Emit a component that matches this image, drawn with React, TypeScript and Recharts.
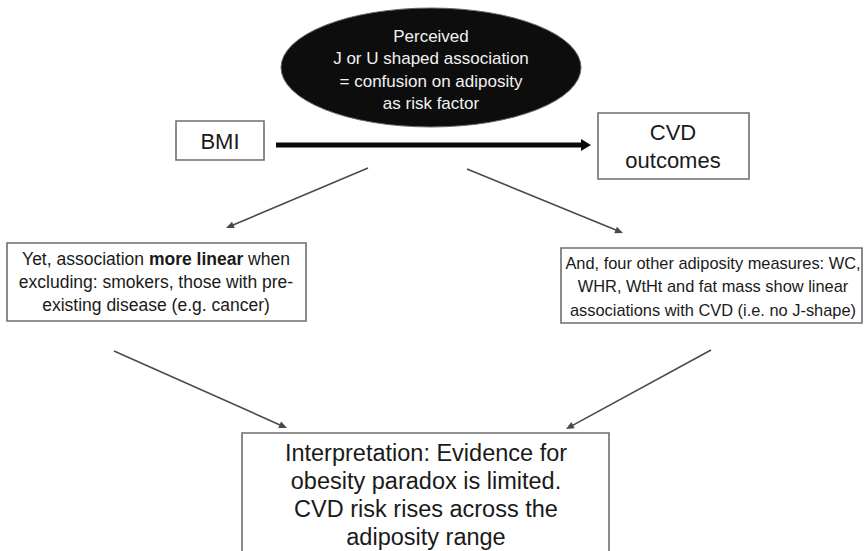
import React from 'react'
import { ScatterChart, Scatter, XAxis, YAxis, ReferenceArea, ReferenceLine } from 'recharts'

// node texts (** marks bold)
const ellipseLines = ['Perceived', 'J or U shaped association', '= confusion on adiposity', 'as risk factor']
const bmiLines = ['BMI']
const cvdLines = ['CVD', 'outcomes']
const leftLines = ['Yet, association **more linear** when', 'excluding:  smokers, those with pre-', 'existing disease (e.g. cancer)']
const rightLines = ['And,  four other adiposity measures: WC,', 'WHR, WtHt and fat mass show linear', 'associations with CVD (i.e. no J-shape)']
const bottomLines = ['Interpretation: Evidence for', 'obesity paradox is limited.', 'CVD risk rises across the', 'adiposity range']

// diagram layout in data units (x: 0-865, y: 0-551 top down)
const boxes = [
  { id: 'bmi', x1: 176, x2: 264, y1: 121, y2: 160 },
  { id: 'cvd', x1: 598, x2: 749, y1: 113, y2: 179 },
  { id: 'left', x1: 7, x2: 306, y1: 243, y2: 321 },
  { id: 'right', x1: 561, x2: 862, y1: 248, y2: 323 },
  { id: 'bottom', x1: 242, x2: 609, y1: 433, y2: 560 },
]
const ellipseBox = { x1: 281, x2: 581, y1: 8, y2: 127 }

const connectors = [
  { from: { x: 276, y: 145 }, to: { x: 591, y: 145 }, heavy: true },
  { from: { x: 368, y: 168 }, to: { x: 226, y: 228 }, heavy: false },
  { from: { x: 467, y: 169 }, to: { x: 623, y: 233 }, heavy: false },
  { from: { x: 114, y: 351 }, to: { x: 287, y: 428 }, heavy: false },
  { from: { x: 711, y: 350 }, to: { x: 566, y: 429 }, heavy: false },
]

const labels = [
  { x: 431, y: 70, lines: ellipseLines, size: 17, lh: 22.5, color: '#f2f2f2' },
  { x: 220, y: 141, lines: bmiLines, size: 22, lh: 26, color: '#1a1a1a' },
  { x: 673, y: 146, lines: cvdLines, size: 22, lh: 28, color: '#1a1a1a' },
  { x: 156, y: 282, lines: leftLines, size: 17.5, lh: 23, color: '#1a1a1a' },
  { x: 713, y: 286, lines: rightLines, size: 16.4, lh: 23.5, color: '#1a1a1a' },
  { x: 426, y: 495, lines: bottomLines, size: 23.5, lh: 27.7, color: '#1a1a1a' },
]

const FONT = '"Liberation Sans", Arial, sans-serif'

const ArrowLine = (p: any) => {
  const { x1, y1, x2, y2, heavy } = p
  const dx = x2 - x1
  const dy = y2 - y1
  const len = Math.sqrt(dx * dx + dy * dy)
  const ux = dx / len
  const uy = dy / len
  const hl = heavy ? 10 : 8
  const hw = heavy ? 6 : 3.5
  const bx = x2 - ux * hl
  const by = y2 - uy * hl
  const pts = `${x2},${y2} ${bx - uy * hw},${by + ux * hw} ${bx + uy * hw},${by - ux * hw}`
  const col = heavy ? '#0a0a0a' : '#4a4a4a'
  return (
    <g>
      <line x1={x1} y1={y1} x2={bx + ux * 1} y2={by + uy * 1} stroke={col} strokeWidth={heavy ? 5 : 1.6} />
      <polygon points={pts} fill={col} />
    </g>
  )
}

const LabelText = (p: any) => {
  const { cx, cy, payload } = p
  const n = payload.lines.length
  return (
    <text textAnchor="middle" fontFamily={FONT} fontSize={payload.size} fill={payload.color}>
      {payload.lines.map((ln: string, i: number) => {
        const parts = ln.split('**')
        return (
          <tspan key={i} x={cx} y={cy + (i - (n - 1) / 2) * payload.lh} dominantBaseline="central">
            {parts.map((t, j) => (
              <tspan key={j} fontWeight={j % 2 === 1 ? 'bold' : 'normal'}>{t}</tspan>
            ))}
          </tspan>
        )
      })}
    </text>
  )
}

export default function App() {
  return (
    <div style={{ position: 'absolute', left: 0, top: 0, background: '#fff' }}>
      <ScatterChart width={865} height={551} margin={{ top: 0, right: 0, bottom: 0, left: 0 }}>
        <XAxis type="number" dataKey="x" domain={[0, 865]} hide />
        <YAxis type="number" dataKey="y" domain={[0, 551]} reversed hide />
        <ReferenceArea
          x1={ellipseBox.x1} x2={ellipseBox.x2} y1={ellipseBox.y1} y2={ellipseBox.y2}
          ifOverflow="visible"
          shape={(p: any) => (
            <ellipse
              cx={p.x + p.width / 2} cy={p.y + p.height / 2}
              rx={Math.abs(p.width) / 2} ry={Math.abs(p.height) / 2}
              fill="#0d0d0d" stroke="#6a6a6a" strokeWidth={1}
            />
          )}
        />
        {boxes.map(b => (
          <ReferenceArea
            key={b.id}
            x1={b.x1} x2={b.x2} y1={b.y1} y2={b.y2}
            ifOverflow="visible"
            fill="#ffffff" fillOpacity={1}
            stroke="#6f6f6f" strokeWidth={1.6}
          />
        ))}
        {connectors.map((c, i) => (
          <ReferenceLine
            key={i}
            segment={[c.from, c.to]}
            ifOverflow="visible"
            shape={(p: any) => <ArrowLine {...p} heavy={c.heavy} />}
          />
        ))}
        <Scatter data={labels} isAnimationActive={false} shape={LabelText} />
      </ScatterChart>
    </div>
  )
}
